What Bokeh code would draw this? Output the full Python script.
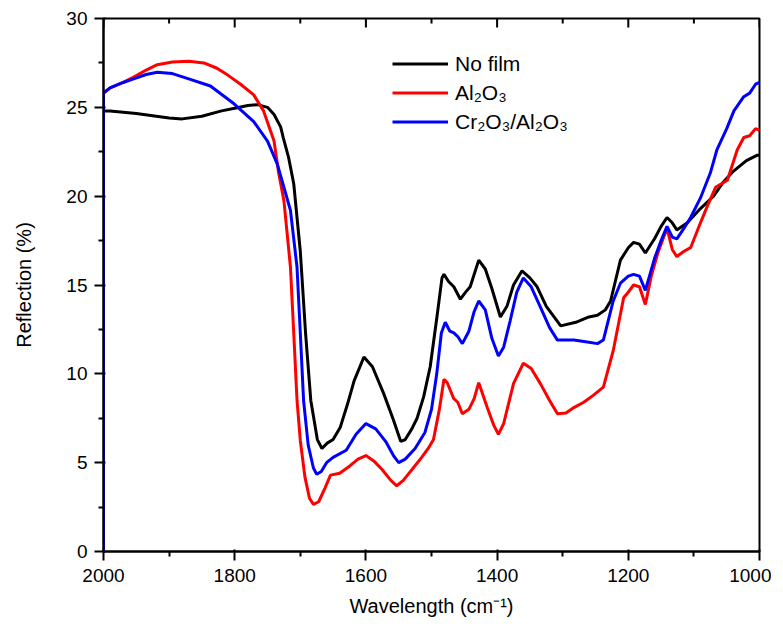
from bokeh.plotting import figure
from bokeh.models import Range1d, FixedTicker, Legend, LegendItem
from bokeh.embed import file_html
from bokeh.resources import INLINE

# ---- data ----
nofilm_x = [2000, 2000, 1990, 1950, 1900, 1880, 1850, 1820, 1800, 1780, 1765, 1750, 1740, 1730,
            1726, 1718, 1710, 1700, 1692, 1684, 1674, 1667, 1659, 1650, 1639, 1628, 1618, 1603,
            1590, 1573, 1558, 1547, 1540, 1530, 1522, 1512, 1502, 1491, 1484, 1481, 1474, 1466,
            1456, 1448, 1441, 1428, 1418, 1408, 1395, 1385, 1375, 1362, 1350, 1339, 1325, 1303,
            1280, 1260, 1247, 1235, 1227, 1212, 1200, 1192, 1183, 1174, 1160, 1150, 1141, 1133,
            1126, 1110, 1090, 1070, 1055, 1040, 1020, 1004, 1000]
nofilm_y = [0, 24.8, 24.8, 24.65, 24.4, 24.35, 24.5, 24.8, 24.95, 25.1, 25.15, 25.0, 24.6, 23.9,
            23.3, 22.2, 20.7, 16.9, 12.3, 8.5, 6.3, 5.8, 6.1, 6.3, 7.0, 8.3, 9.6, 10.95,
            10.4, 8.9, 7.4, 6.2, 6.3, 6.9, 7.5, 8.7, 10.4, 13.4, 15.4, 15.6, 15.2, 14.9,
            14.2, 14.6, 14.9, 16.4, 15.9, 14.8, 13.2, 13.8, 15.0, 15.8, 15.4, 14.9, 13.8, 12.7,
            12.9, 13.2, 13.3, 13.6, 14.1, 16.4, 17.1, 17.4, 17.3, 16.8, 17.6, 18.3, 18.8, 18.5,
            18.1, 18.5, 19.3, 20.0, 20.8, 21.4, 22.0, 22.3, 22.3]

al2o3_x = [2000, 2000, 1990, 1970, 1954, 1935, 1918, 1895, 1870, 1847, 1827, 1810, 1791, 1771,
           1756, 1740, 1733, 1725, 1715, 1710, 1705, 1700, 1693, 1686, 1680, 1672, 1662, 1654,
           1640, 1625, 1612, 1600, 1588, 1575, 1562, 1553, 1543, 1530, 1515, 1505, 1497, 1488,
           1481, 1476, 1466, 1460, 1453, 1443, 1435, 1428, 1415, 1405, 1398, 1390, 1375, 1360,
           1348, 1334, 1320, 1308, 1295, 1283, 1268, 1253, 1238, 1223, 1207, 1202, 1192, 1183,
           1174, 1165, 1155, 1141, 1133, 1126, 1115, 1105, 1090, 1080, 1067, 1049, 1034, 1024,
           1015, 1006, 1000]
al2o3_y = [0, 25.8, 26.1, 26.4, 26.7, 27.1, 27.4, 27.55, 27.6, 27.5, 27.2, 26.8, 26.3, 25.7,
           24.8, 23.1, 21.3, 19.75, 16.0, 12.3, 8.5, 6.25, 4.2, 3.0, 2.65, 2.8, 3.6, 4.3,
           4.4, 4.8, 5.2, 5.4, 5.1, 4.6, 4.0, 3.7, 4.0, 4.6, 5.3, 5.8, 6.3, 8.0,
           9.7, 9.5, 8.6, 8.4, 7.75, 8.0, 8.6, 9.5, 8.1, 7.1, 6.6, 7.2, 9.45, 10.6,
           10.3, 9.45, 8.5, 7.75, 7.8, 8.1, 8.4, 8.8, 9.25, 11.3, 14.3, 14.5, 15.0, 14.9,
           13.9, 15.5, 16.8, 18.2, 17.0, 16.6, 16.9, 17.1, 18.5, 19.4, 20.5, 20.9, 22.6, 23.3,
           23.4, 23.8, 23.7]

cr2o3_x = [2000, 2000, 1990, 1970, 1954, 1935, 1918, 1895, 1870, 1837, 1801, 1771, 1750, 1735,
           1725, 1715, 1705, 1700, 1695, 1688, 1680, 1675, 1668, 1660, 1650, 1630, 1615, 1600,
           1585, 1570, 1558, 1550, 1540, 1525, 1510, 1500, 1492, 1485, 1479, 1472, 1466, 1460,
           1453, 1443, 1435, 1428, 1418, 1408, 1398, 1390, 1380, 1370, 1360, 1348, 1334, 1320,
           1308, 1283, 1265, 1247, 1238, 1223, 1212, 1200, 1192, 1183, 1174, 1160, 1150, 1141,
           1133, 1126, 1115, 1105, 1090, 1075, 1065, 1050, 1039, 1024, 1015, 1006, 1000]
cr2o3_y = [0, 25.8, 26.1, 26.4, 26.6, 26.85, 26.97, 26.9, 26.6, 26.2, 25.2, 24.2, 23.1, 21.8,
           20.5, 19.2, 16.0, 12.3, 8.5, 6.0, 4.7, 4.35, 4.5, 5.0, 5.3, 5.7, 6.6, 7.2,
           6.9, 6.2, 5.4, 5.0, 5.2, 5.8, 6.7, 8.0, 10.0, 12.3, 12.9, 12.4, 12.3, 12.1,
           11.7, 12.4, 13.5, 14.1, 13.6, 12.0, 11.0, 11.5, 13.0, 14.6, 15.4, 14.9, 13.75, 12.6,
           11.9, 11.9, 11.8, 11.7, 11.9, 14.1, 15.1, 15.5, 15.6, 15.5, 14.7, 16.5, 17.5, 18.3,
           17.7, 17.6, 18.2, 18.8, 19.9, 21.3, 22.6, 23.8, 24.8, 25.6, 25.8, 26.3, 26.4]

series_names = ["No film", "Al\u2082O\u2083", "Cr\u2082O\u2083/Al\u2082O\u2083"]
series_colors = ["#000000", "#ff0000", "#0000ff"]

x_ticks = [2000, 1800, 1600, 1400, 1200, 1000]
x_minor = [1900, 1700, 1500, 1300, 1100]
y_ticks = [0, 5, 10, 15, 20, 25, 30]
y_minor = [2.5, 7.5, 12.5, 17.5, 22.5, 27.5]

p = figure(frame_width=656, frame_height=533, output_backend="svg", toolbar_location=None,
           x_range=Range1d(2000, 1000), y_range=Range1d(0, 30),
           min_border_left=103, min_border_top=18, min_border_right=12, min_border_bottom=76)
p.grid.visible = False
p.outline_line_color = "black"
p.outline_line_width = 2

for ax, tk, mn in ((p.xaxis[0], x_ticks, x_minor), (p.yaxis[0], y_ticks, y_minor)):
    ax.ticker = FixedTicker(ticks=tk, minor_ticks=mn)
    ax.axis_line_width = 2
    ax.major_tick_line_width = 2
    ax.minor_tick_line_width = 2
    ax.major_tick_out = 9
    ax.minor_tick_out = 5
    ax.major_label_text_font_size = "19px"
    ax.major_label_text_color = "black"
    ax.axis_label_text_font_size = "20px"
    ax.axis_label_text_font_style = "normal"
    ax.axis_label_text_color = "black"

p.xaxis[0].axis_label = "Wavelength (cm\u207b\u00b9)"
p.yaxis[0].axis_label = "Reflection (%)"
p.xaxis[0].major_label_standoff = 8
p.xaxis[0].axis_label_standoff = 10
p.yaxis[0].major_label_standoff = 7
p.yaxis[0].axis_label_standoff = 28

lines = []
for xs, ys, c in ((nofilm_x, nofilm_y, series_colors[0]),
                  (al2o3_x, al2o3_y, series_colors[1]),
                  (cr2o3_x, cr2o3_y, series_colors[2])):
    r = p.line(xs, ys, line_color=c, line_width=3)
    lines.append(r)

# inward ticks along the top edge of the frame
p.segment(x0=x_ticks, y0=[30] * len(x_ticks), x1=x_ticks, y1=[29.5] * len(x_ticks),
          line_color="black", line_width=2)
p.segment(x0=x_minor, y0=[30] * len(x_minor), x1=x_minor, y1=[29.72] * len(x_minor),
          line_color="black", line_width=2)

legend = Legend(items=[LegendItem(label=n, renderers=[r]) for n, r in zip(series_names, lines)],
                location=(289, 415), padding=0, margin=0, spacing=0,
                label_height=29, glyph_height=29, glyph_width=56, label_standoff=7,
                label_text_font_size="21px", label_text_color="black",
                background_fill_alpha=0, border_line_color=None)
p.add_layout(legend, "center")

open("out.html", "w").write(file_html(p, INLINE))
